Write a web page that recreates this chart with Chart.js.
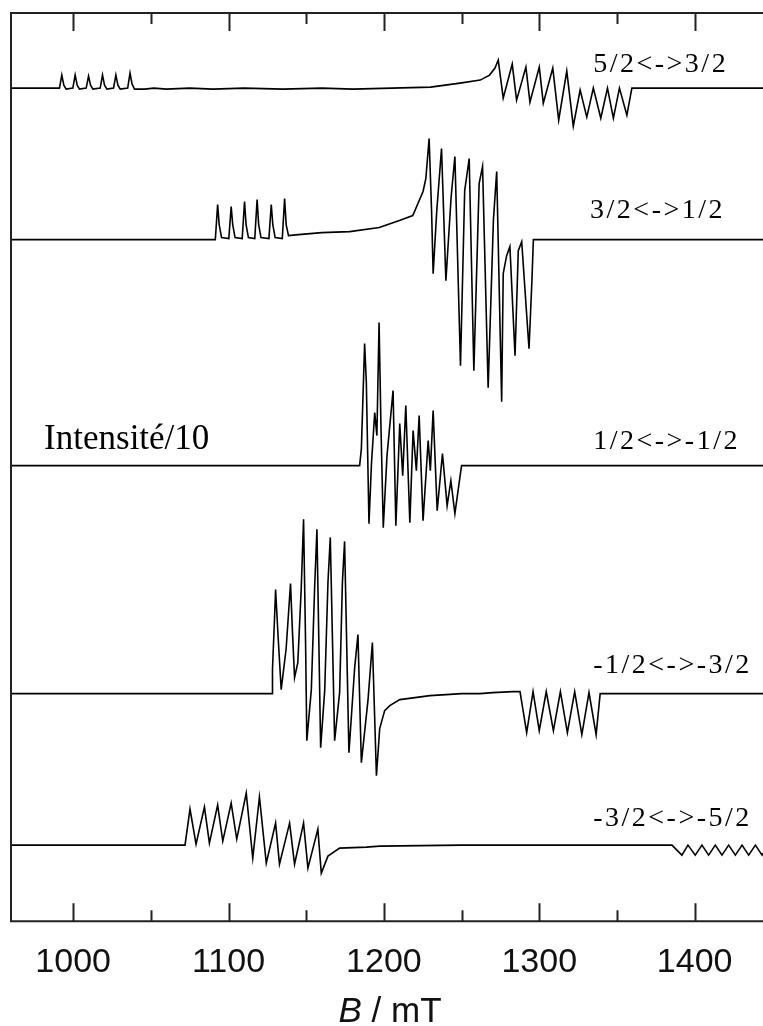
<!DOCTYPE html>
<html>
<head>
<meta charset="utf-8">
<script src="https://cdn.jsdelivr.net/npm/chart.js@4"></script>
<style>
  html, body { margin: 0; padding: 0; background: #fff; }
  #wrap { width: 763px; height: 1026px; }
</style>
</head>
<body>
<div id="wrap"><canvas id="epr" width="763" height="1026"></canvas></div>
<script>
// field B (mT), intensity relative to each trace's own baseline (arb. units)
const t52 = [[960,0],[991.2,0],[992.7,13],[994,3],[995.5,-1],[999.8,0],[1001.3,13],[1002.6,3],[1004.1,-1],[1008.4,0],[1009.9,12],[1011.2,3],[1012.7,-1],[1017.4,0],[1018.9,13],[1020.2,3],[1021.7,-1],[1026,0],[1027.5,13],[1028.8,3],[1030.3,-1],[1035.1,0],[1036.6,15],[1037.9,4],[1039.5,-1],[1046,-1],[1052,0],[1060,-1],[1075,0],[1090,-1],[1110,0],[1135,-1],[1160,0],[1180,-1],[1205,0],[1230,1],[1249,5],[1262,8],[1268,13],[1271.5,20],[1273.6,28],[1276.8,-10],[1282.6,24],[1285.4,-12],[1291.4,21],[1294,-14],[1300,21],[1302.6,-15],[1308.7,20],[1312.5,-32],[1317.7,17],[1321.9,-38],[1326.3,-2],[1330.6,-29],[1334.8,0],[1339.6,-30],[1343.9,0],[1347.7,-30],[1351.6,0],[1356.4,-27],[1359.6,0],[1444,0]];
const t32 = [[960,0],[1091.5,0],[1093,35],[1094,15],[1095.5,2],[1100.2,1],[1101.7,33],[1102.7,15],[1104.2,2],[1108.8,1],[1110.3,38],[1111.3,15],[1112.8,2],[1116.9,1],[1118.4,40],[1119.4,15],[1120.9,2],[1126,1],[1127.5,35],[1128.5,15],[1130,2],[1134.6,1],[1136.1,41],[1137.1,15],[1138.6,4],[1145,5],[1160,7],[1178,8],[1197,12],[1210,19],[1218.6,24],[1225.2,48],[1227,61],[1229.1,101],[1230.7,28],[1231.7,-34],[1234,28],[1237.1,91],[1239.9,-41],[1243.3,43],[1245.7,83],[1249.3,-126],[1252,49],[1254.9,81],[1257.9,-131],[1261.3,56],[1263.5,73],[1267.1,-148],[1270.5,20],[1272.6,68],[1275.8,-162],[1276.8,-34],[1279,-16],[1281.1,-7],[1284.4,-116],[1286.5,-11],[1288.7,-2],[1293.4,-109],[1295.3,-40],[1296.2,0],[1444,0]];
const t12 = [[960,0],[1184.4,0],[1185.5,17],[1187.6,122],[1188.7,83],[1190.4,-58],[1192,2],[1194.1,53],[1195.5,30],[1196.9,143],[1198.1,40],[1199.6,-62],[1202,10],[1205.9,75],[1207.7,-60],[1210.2,42],[1212.1,-10],[1214.1,60],[1216.7,-57],[1218.8,35],[1220.9,-5],[1222.7,50],[1225.2,-55],[1228.5,25],[1229.9,-5],[1231.7,55],[1234.3,-45],[1237.7,12],[1240.7,-40],[1243.1,-15],[1245.7,-48],[1248.9,-12],[1250,0],[1444,0]];
const tm12 = [[960,0],[1128,0],[1128.3,24],[1129.6,75],[1130.3,104],[1131.8,60],[1133.9,4],[1137.1,45],[1139.9,110],[1141.2,60],[1142.5,16],[1144.6,31],[1146.8,105],[1148.3,174],[1149.6,50],[1150.4,-47],[1153.3,4],[1155.4,105],[1156.9,164],[1159.3,-54],[1161.9,3],[1164,111],[1165.5,156],[1168.3,-47],[1171.5,1],[1173.3,111],[1174.7,152],[1177.5,-59],[1181.2,26],[1183.3,59],[1185.5,-69],[1189.8,-6],[1192.6,51],[1195.2,-82],[1197.3,-35],[1200.5,-17],[1203.8,-12],[1210.2,-6],[1220,-4],[1229.6,-2],[1240,-1],[1250,0],[1261.8,0],[1270,1],[1283.1,2],[1287.6,2],[1291.9,-39],[1296,2],[1300,-37],[1304.5,2],[1309.1,-37],[1313.6,2],[1318.1,-39],[1322.8,2],[1327.4,-41],[1332,1],[1336.6,-41],[1339.2,0],[1444,0]];
const tm32 = [[960,0],[1072,0],[1075.2,36],[1079.1,1],[1084.5,38],[1087.7,2],[1093,40],[1096.3,4],[1101.7,42],[1105.3,6],[1111.4,52],[1115.6,-13],[1119.9,48],[1124.3,-18],[1130.3,22],[1132.8,-19],[1139.3,22],[1142.5,-19],[1148.3,22],[1151.1,-23],[1157.5,16],[1159.7,-28],[1164,-11],[1171.5,-3],[1188.7,-2],[1197.3,-1],[1250,0],[1385.4,0],[1391.8,-10],[1395.7,0],[1400.4,-10],[1404.7,0],[1409,-10],[1413.3,0],[1417.6,-10],[1421.9,0],[1426.2,-10],[1430.5,0],[1434.8,-10],[1439.1,0],[1443.4,-10],[1444,-8]];

const traces = [t52, t32, t12, tm12, tm32];
const offsets = [832, 680.7, 455, 227.3, 76];   // vertical stacking offsets

const tickValues = [1000, 1100, 1200, 1300, 1400];
const minorTicks = [1050, 1150, 1250, 1350];

const labelTexts = ["5/2<->3/2", "3/2<->1/2", "1/2<->-1/2", "-1/2<->-3/2", "-3/2<->-5/2"];
const labelB = [1334.7, 1332.7, 1334.7, 1334.7, 1334.7];
const labelY = [848.3, 702, 472, 248.3, 95];
const scaleNote = "Intensité/10";

const datasets = traces.map((t, k) => ({
  data: t.map(([b, v]) => ({ x: b, y: offsets[k] + v })),
  borderColor: "#000",
  borderWidth: 1.6,
  pointRadius: 0,
  fill: false,
  tension: 0
}));

// frame with inward ticks on top and bottom, and the x title
const frame = {
  id: "frame",
  afterDraw(chart) {
    const { ctx, chartArea: a, scales: { x } } = chart;
    ctx.save();
    ctx.strokeStyle = "#222";
    ctx.lineWidth = 2;
    ctx.beginPath();
    ctx.moveTo(a.right, a.top);
    ctx.lineTo(a.left, a.top);
    ctx.lineTo(a.left, a.bottom);
    ctx.lineTo(a.right, a.bottom);
    ctx.stroke();
    const tick = (v, len) => {
      const px = Math.round(x.getPixelForValue(v)) + 0.5;
      ctx.moveTo(px, a.top); ctx.lineTo(px, a.top + len);
      ctx.moveTo(px, a.bottom); ctx.lineTo(px, a.bottom - len);
    };
    ctx.beginPath();
    tickValues.forEach(v => tick(v, 18));
    minorTicks.forEach(v => tick(v, 11));
    ctx.stroke();

    // axis title: italic B
    const fontSize = 35;
    ctx.fillStyle = "#111";
    ctx.textBaseline = "alphabetic";
    ctx.font = "italic " + fontSize + "px 'Liberation Sans'";
    const wB = ctx.measureText("B").width;
    ctx.font = fontSize + "px 'Liberation Sans'";
    const rest = " / mT";
    const wR = ctx.measureText(rest).width;
    const cx = (a.left + a.right) / 2 + 3;
    const x0 = cx - (wB + wR) / 2;
    ctx.font = "italic " + fontSize + "px 'Liberation Sans'";
    ctx.fillText("B", x0, 1022);
    ctx.font = fontSize + "px 'Liberation Sans'";
    ctx.fillText(rest, x0 + wB, 1022);
    ctx.restore();
  }
};

const annot = {
  id: "annot",
  afterDraw(chart) {
    const { ctx, scales: { x, y } } = chart;
    ctx.save();
    ctx.fillStyle = "#000";
    ctx.textBaseline = "alphabetic";
    ctx.textAlign = "left";
    ctx.font = "28px 'Liberation Serif'";
    ctx.letterSpacing = "2.5px";
    labelTexts.forEach((t, i) => {
      ctx.fillText(t, x.getPixelForValue(labelB[i]), y.getPixelForValue(labelY[i]));
    });
    ctx.letterSpacing = "0px";
    ctx.font = "35px 'Liberation Serif'";
    ctx.fillText(scaleNote, x.getPixelForValue(981.3), y.getPixelForValue(472));
    ctx.restore();
  }
};

const chart = new Chart(document.getElementById("epr"), {
  type: "line",
  data: { datasets },
  options: {
    responsive: false,
    devicePixelRatio: 1,
    animation: false,
    layout: { padding: { left: 11, right: 0, top: 13, bottom: 22 } },
    plugins: { legend: { display: false }, tooltip: { enabled: false } },
    scales: {
      x: {
        type: "linear",
        min: 960,
        max: 1444,
        afterBuildTicks: s => { s.ticks = tickValues.map(v => ({ value: v })); },
        grid: { display: false, drawTicks: false },
        border: { display: false },
        ticks: {
          font: { family: "Liberation Sans", size: 34 },
          color: "#111",
          padding: 21,
          maxRotation: 0,
          autoSkip: false,
          callback: v => String(v)
        }
      },
      y: { display: false, min: 0, max: 907 }
    }
  },
  plugins: [frame, annot]
});
</script>
</body>
</html>
